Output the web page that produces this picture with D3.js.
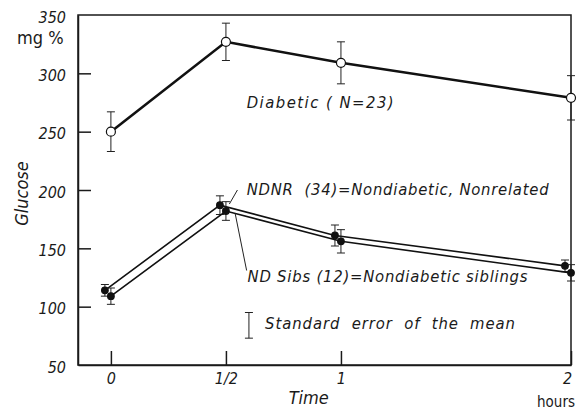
<!DOCTYPE html>
<html lang="en">
	<head>
		<meta charset="utf-8">
		<title>glucose tolerance</title>
		<style>
			body {
				margin: 0;
				background-color: #fff;
			}
			text {
				font-family: "DejaVu Sans Condensed", "DejaVu Sans", sans-serif;
				fill: #1a1a1a;
			}
			.lbl {
				font-style: italic;
				font-size: 16.5px;
			}
			.axis path, .axis line {
				stroke: #1a1a1a;
				stroke-width: 1.5px;
			}
			.axis text {
				font-style: italic;
				font-size: 16px;
			}
			path.line {
				fill: none;
				stroke: #111;
			}
			.err {
				stroke: #222;
				stroke-width: 1px;
			}
		</style>
	</head>
	<body>
		<script src="https://cdnjs.cloudflare.com/ajax/libs/d3/7.8.5/d3.min.js"></script>
		<script>

			// data
			var hours = [0, 0.5, 1, 2];
			var hourLabels = ["0", "1/2", "1", "2"];
			var yTicks = [350, 300, 250, 200, 150, 100, 50];

			var diabetic = [250, 327, 309, 279];
			var diabeticSE = [17, 16, 18, 19];
			var ndnr = [114, 187, 161, 135];
			var ndnrSE = [5, 8, 9, 5];
			var ndSibs = [109, 182, 156, 129];
			var ndSibsSE = [7, 8, 10, 7];

			var fullwidth = 578, fullheight = 413;
			var margin = { top: 15, right: 7, bottom: 48, left: 78 };
			var width = fullwidth - margin.left - margin.right;
			var height = fullheight - margin.top - margin.bottom;

			var xScale = d3.scaleLinear().domain([-0.143, 2]).range([0, width]);
			var yScale = d3.scaleLinear().domain([50, 350]).range([height, 0]);

			var svg = d3.select("body").append("svg")
				.attr("width", fullwidth)
				.attr("height", fullheight)
				.append("g")
				.attr("transform", "translate(" + margin.left + "," + margin.top + ")");

			// frame
			svg.append("rect")
				.attr("width", width).attr("height", height)
				.attr("fill", "none").attr("stroke", "#1a1a1a").attr("stroke-width", 1.5);

			var yAxis = d3.axisLeft(yScale)
				.tickValues(yTicks)
				.tickSizeInner(-13).tickSizeOuter(0).tickPadding(12);
			var gy = svg.append("g").attr("class", "axis").call(yAxis);
			gy.selectAll(".tick line").filter(function(d) { return d == 350 || d == 50; }).remove();
			gy.selectAll(".tick text").attr("dy", "0.45em");

			var xAxis = d3.axisBottom(xScale)
				.tickValues(hours)
				.tickFormat(function(d, i) { return hourLabels[i]; })
				.tickSizeInner(-14).tickSizeOuter(0).tickPadding(8);
			var gx = svg.append("g").attr("class", "axis")
				.attr("transform", "translate(0," + height + ")")
				.call(xAxis);
			gx.selectAll(".tick text").filter(function(d) { return d == 2; }).attr("dx", "-4px");

			// titles
			svg.append("text").attr("x", -61).attr("y", 29)
				.style("font-size", "18px").text("mg %");
			svg.append("text").attr("class", "lbl")
				.attr("transform", "translate(-50," + (yScale(197)) + ") rotate(-90)")
				.attr("text-anchor", "middle").style("font-size", "18px").text("Glucose");
			svg.append("text").attr("class", "lbl")
				.attr("x", xScale(0.86)).attr("y", height + 39)
				.attr("text-anchor", "middle").style("font-size", "18px").text("Time");
			svg.append("text")
				.attr("x", width + 4).attr("y", height + 42)
				.attr("text-anchor", "end").style("font-size", "15px").text("hours");

			var series = [
				{ values: diabetic, se: diabeticSE, dx: 0, r: 4.5, open: true, w: 2.6 },
				{ values: ndnr, se: ndnrSE, dx: -6, r: 3.3, open: false, w: 1.6 },
				{ values: ndSibs, se: ndSibsSE, dx: 0, r: 3.3, open: false, w: 1.6 }
			];

			var line = d3.line()
				.x(function(d) { return xScale(d.h) + d.dx; })
				.y(function(d) { return yScale(d.v); });

			series.forEach(function(s) {
				var pts = s.values.map(function(v, i) {
					return { h: hours[i], v: v, se: s.se[i], dx: s.dx };
				});
				var g = svg.append("g");

				var eb = g.selectAll("g.eb").data(pts).enter().append("g").attr("class", "err");
				eb.append("line")
					.attr("x1", function(d) { return xScale(d.h) + d.dx; })
					.attr("x2", function(d) { return xScale(d.h) + d.dx; })
					.attr("y1", function(d) { return yScale(d.v + d.se); })
					.attr("y2", function(d) { return yScale(d.v - d.se); });
				[1, -1].forEach(function(sign) {
					eb.append("line")
						.attr("x1", function(d) { return xScale(d.h) + d.dx - 4; })
						.attr("x2", function(d) { return xScale(d.h) + d.dx + 4; })
						.attr("y1", function(d) { return yScale(d.v + sign * d.se); })
						.attr("y2", function(d) { return yScale(d.v + sign * d.se); });
				});

				g.append("path").datum(pts).attr("class", "line")
					.attr("stroke-width", s.w).attr("d", line);

				g.selectAll("circle").data(pts).enter().append("circle")
					.attr("cx", function(d) { return xScale(d.h) + d.dx; })
					.attr("cy", function(d) { return yScale(d.v); })
					.attr("r", s.r)
					.attr("fill", s.open ? "#fff" : "#111")
					.attr("stroke", "#111").attr("stroke-width", 1.2);
			});

			// annotations, stretched to the widths of the printed labels
			var notes = [
				{ t: "Diabetic ( N=23)", h: 0.59, v: 270, len: 147 },
				{ t: "NDNR  (34)=Nondiabetic, Nonrelated", h: 0.59, v: 196, len: 302 },
				{ t: "ND Sibs (12)=Nondiabetic siblings", h: 0.594, v: 121, len: 280 },
				{ t: "Standard  error  of  the  mean", h: 0.67, v: 81, len: 250 }
			];
			notes.forEach(function(n) {
				svg.append("text").attr("class", "lbl")
					.attr("x", xScale(n.h)).attr("y", yScale(n.v))
					.attr("xml:space", "preserve")
					.attr("textLength", n.len).attr("lengthAdjust", "spacing")
					.text(n.t);
			});

			// leader lines
			svg.append("line").attr("class", "err")
				.attr("x1", xScale(0.55)).attr("y1", yScale(200))
				.attr("x2", xScale(0.515)).attr("y2", yScale(188));
			svg.append("line").attr("class", "err")
				.attr("x1", xScale(0.59)).attr("y1", yScale(131))
				.attr("x2", xScale(0.54)).attr("y2", yScale(180));

			// standard error key
			var key = svg.append("g").attr("class", "err");
			key.append("line")
				.attr("x1", xScale(0.6)).attr("x2", xScale(0.6))
				.attr("y1", yScale(95)).attr("y2", yScale(73));
			[95, 73].forEach(function(v) {
				key.append("line")
					.attr("x1", xScale(0.6) - 4).attr("x2", xScale(0.6) + 4)
					.attr("y1", yScale(v)).attr("y2", yScale(v));
			});

		</script>
	</body>
</html>
